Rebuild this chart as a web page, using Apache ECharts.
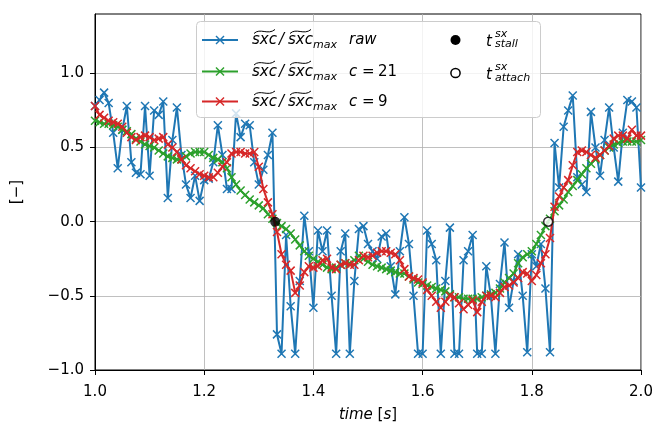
<!DOCTYPE html>
<html><head><meta charset="utf-8">
<script src="https://cdn.jsdelivr.net/npm/echarts@6/dist/echarts.min.js"></script>
<style>html,body{margin:0;padding:0;background:#fff}#c{width:659px;height:424px}</style>
</head><body><div id="c"></div>
<script>
// sampling grid
const T_START = 1.0;
const SAMPLE_RATE = 120;

const rawValues = [0.78,0.82,0.87,0.80,0.60,0.36,0.62,0.78,0.40,0.33,
0.32,0.78,0.31,0.75,0.72,0.81,0.16,0.55,0.77,0.45,
0.25,0.16,0.31,0.14,0.28,0.29,0.40,0.65,0.45,0.22,
0.22,0.73,0.57,0.66,0.65,0.40,0.25,0.35,0.45,0.60,
-0.76,-0.89,-0.09,-0.57,-0.89,-0.40,0.04,-0.20,-0.58,-0.06,
-0.20,-0.06,-0.50,-0.89,-0.20,-0.08,-0.89,-0.40,-0.05,-0.03,
-0.15,-0.20,-0.25,-0.10,-0.08,-0.30,-0.49,-0.20,0.03,-0.15,
-0.50,-0.89,-0.89,-0.06,-0.15,-0.26,-0.89,-0.40,-0.04,-0.89,
-0.89,-0.26,-0.20,-0.09,-0.89,-0.89,-0.30,-0.50,-0.89,-0.42,
-0.14,-0.58,-0.40,-0.22,-0.50,-0.88,-0.22,-0.30,-0.15,-0.45,
-0.88,0.53,0.23,0.64,0.75,0.85,0.30,0.25,0.20,0.74,
0.50,0.31,0.55,0.77,0.50,0.27,0.60,0.82,0.81,0.77,
0.23];

const smoothC21 = [0.68,0.67,0.66,0.66,0.65,0.64,0.62,0.61,0.59,0.56,
0.54,0.52,0.51,0.50,0.48,0.46,0.44,0.43,0.42,0.42,
0.44,0.46,0.47,0.47,0.47,0.45,0.43,0.42,0.40,0.36,
0.30,0.25,0.21,0.18,0.15,0.13,0.11,0.09,0.05,0.02,
-0.01,-0.03,-0.05,-0.08,-0.12,-0.16,-0.20,-0.23,-0.25,-0.27,
-0.29,-0.31,-0.32,-0.31,-0.29,-0.28,-0.28,-0.26,-0.23,-0.25,
-0.27,-0.29,-0.30,-0.31,-0.32,-0.33,-0.34,-0.35,-0.35,-0.37,
-0.39,-0.41,-0.42,-0.43,-0.44,-0.45,-0.46,-0.47,-0.49,-0.51,
-0.51,-0.52,-0.52,-0.52,-0.52,-0.51,-0.50,-0.49,-0.48,-0.45,
-0.41,-0.38,-0.35,-0.28,-0.24,-0.22,-0.20,-0.15,-0.09,-0.03,
0.02,0.07,0.11,0.15,0.20,0.24,0.28,0.32,0.36,0.39,
0.42,0.45,0.48,0.50,0.52,0.53,0.54,0.54,0.54,0.54,
0.55];

const smoothC9 = [0.78,0.72,0.70,0.68,0.67,0.66,0.64,0.60,0.57,0.55,
0.57,0.58,0.57,0.55,0.56,0.57,0.52,0.50,0.47,0.42,
0.38,0.36,0.34,0.32,0.31,0.30,0.30,0.33,0.37,0.40,
0.46,0.47,0.47,0.46,0.46,0.47,0.37,0.22,0.13,0.05,
-0.07,-0.22,-0.29,-0.33,-0.48,-0.43,-0.34,-0.30,-0.31,-0.30,
-0.26,-0.25,-0.31,-0.32,-0.29,-0.28,-0.29,-0.29,-0.26,-0.23,
-0.24,-0.23,-0.21,-0.20,-0.20,-0.21,-0.22,-0.26,-0.32,-0.37,
-0.38,-0.39,-0.41,-0.46,-0.50,-0.54,-0.58,-0.54,-0.50,-0.51,
-0.55,-0.59,-0.56,-0.53,-0.61,-0.54,-0.50,-0.50,-0.51,-0.48,
-0.44,-0.43,-0.41,-0.38,-0.34,-0.35,-0.40,-0.36,-0.28,-0.22,
-0.11,0.10,0.17,0.23,0.28,0.38,0.47,0.48,0.47,0.45,
0.43,0.45,0.48,0.51,0.56,0.58,0.58,0.56,0.62,0.58,
0.58];

const stallPoint = [[1.33, 0.0]];
const attachPoint = [[1.83, 0.0]];

const xTickValues = [1.0, 1.2, 1.4, 1.6, 1.8, 2.0];
const yTickValues = [-1.0, -0.5, 0.0, 0.5, 1.0];

const C_BLUE = '#1f77b4', C_GREEN = '#2ca02c', C_RED = '#d62728';
const FONT = '"DejaVu Sans", sans-serif';
const X_MARK = 'path://M0,0L10,10M10,0L0,10';

function toXY(arr){ return arr.map((v,i)=>[T_START + i / SAMPLE_RATE, v]); }
function fmt(v){ return v < 0 ? '\u2212' + Math.abs(v).toFixed(1) : v.toFixed(1); }

function lineSeries(name, vals, color, z){
  return {
    type:'line', name, data: toXY(vals), z,
    symbol: X_MARK, symbolSize: 8, showSymbol: true, showAllSymbol: true,
    lineStyle:{color, width:2},
    itemStyle:{color: color, borderColor: color, borderWidth: 1.5},
    emphasis:{disabled:true}, animation:false
  };
}

// legend drawn as graphic elements
function legendGraphics(){
  const els = [];
  els.push({type:'rect', shape:{x:196.5, y:21.5, width:344, height:96, r:4},
    style:{fill:'rgba(255,255,255,0.8)', stroke:'#cccccc', lineWidth:1}, z:100});
  const rows = [{c:C_BLUE, y:40, tail:'raw', tailIt:true},
                {c:C_GREEN, y:71.5, tail:'21'},
                {c:C_RED, y:101.5, tail:'9'}];
  rows.forEach(r=>{
    els.push({type:'line', shape:{x1:202, y1:r.y, x2:238, y2:r.y}, style:{stroke:r.c, lineWidth:2}, z:101});
    els.push({type:'line', shape:{x1:216, y1:r.y-4, x2:224, y2:r.y+4}, style:{stroke:r.c, lineWidth:1.5}, z:102});
    els.push({type:'line', shape:{x1:216, y1:r.y+4, x2:224, y2:r.y-4}, style:{stroke:r.c, lineWidth:1.5}, z:102});
    const ty = r.y + 0.5;
    const t = (text, x, y, size, italic) => els.push({type:'text', x, y, z:103,
      style:{text, font:(italic?'italic ':'') + size + 'px ' + FONT, fill:'#000', verticalAlign:'middle', align:'left'}});
    t('sxc', 252, ty, 15, true);
    t('/', 279, ty, 15, true);
    t('sxc', 288, ty, 15, true);
    t('max', 313, ty+5, 11, true);
    [252, 288].forEach(x0=>{
      els.push({type:'bezierCurve', shape:{x1:x0+2, y1:ty-7, cpx1:x0+8, cpy1:ty-13, cpx2:x0+16, cpy2:ty-5, x2:x0+23, y2:ty-11},
        style:{stroke:'#000', lineWidth:1, fill:'none'}, z:103});
    });
    if (r.tailIt) { t('raw', 349, ty, 15, true); }
    else { t('c', 349, ty, 15, true); t('=', 362, ty, 15, false); t(r.tail, 378, ty, 15, false); }
  });
  // second column
  els.push({type:'circle', shape:{cx:455.5, cy:40, r:5}, style:{fill:'#000'}, z:101});
  els.push({type:'circle', shape:{cx:455.5, cy:73, r:4.6}, style:{fill:'#fff', stroke:'#000', lineWidth:1.5}, z:101});
  const tt = (text, x, y, size) => els.push({type:'text', x, y, z:103,
      style:{text, font:'italic ' + size + 'px ' + FONT, fill:'#000', verticalAlign:'middle', align:'left'}});
  tt('t', 486, 42, 15); tt('sx', 495, 34, 11); tt('stall', 495, 44.5, 11);
  tt('t', 486, 75, 15); tt('sx', 495, 67, 11); tt('attach', 495, 78, 11);
  return els;
}

const chart = echarts.init(document.getElementById('c'), null, {renderer:'canvas'});
chart.setOption({
  animation:false,
  backgroundColor:'#fff',
  grid:{left:95, right:18, top:14, bottom:54, show:true, borderColor:'#000', borderWidth:1,
        containLabel:false, outerBoundsMode:'none'},
  xAxis:{
    type:'value', min:1.0, max:2.0, interval:0.2,
    name:'{it|time} {up|[}{it|s}{up|]}', nameLocation:'middle', nameGap:38,
    nameTextStyle:{color:'#000', fontSize:15, fontFamily:FONT,
      rich:{it:{fontStyle:'italic', fontSize:15, fontFamily:FONT, color:'#000'}, up:{fontSize:15, fontFamily:FONT, color:'#000'}}},
    axisLine:{show:true, onZero:false, lineStyle:{color:'#000', width:1}},
    axisTick:{show:true, inside:false, length:5, lineStyle:{color:'#000', width:1}, customValues: xTickValues},
    axisLabel:{color:'#000', fontSize:15, fontFamily:FONT, margin:15, formatter:fmt, customValues: xTickValues},
    splitLine:{show:true, lineStyle:{color:'#b0b0b0', width:0.8}}
  },
  yAxis:{
    type:'value', min:-1.0, max:1.4, interval:0.5,
    name:'[\u2212]', nameLocation:'middle', nameGap:70, nameRotate:90,
    nameTextStyle:{color:'#000', fontSize:15, fontFamily:FONT},
    axisLine:{show:true, onZero:false, lineStyle:{color:'#000', width:1}},
    axisTick:{show:true, inside:false, length:5, lineStyle:{color:'#000', width:1}, customValues: yTickValues},
    axisLabel:{color:'#000', fontSize:15, fontFamily:FONT, margin:11, formatter:fmt, customValues: yTickValues},
    splitLine:{show:true, lineStyle:{color:'#b0b0b0', width:0.8}}
  },
  series:[
    lineSeries('raw', rawValues, C_BLUE, 2),
    lineSeries('c = 21', smoothC21, C_GREEN, 3),
    lineSeries('c = 9', smoothC9, C_RED, 4),
    {type:'scatter', name:'t_stall', data: stallPoint, symbol:'circle', symbolSize:10, z:6,
      itemStyle:{color:'#000'}, emphasis:{disabled:true}},
    {type:'scatter', name:'t_attach', data: attachPoint, symbol:'circle', symbolSize:9, z:6,
      itemStyle:{color:'#fff', borderColor:'#000', borderWidth:1.5}, emphasis:{disabled:true}}
  ],
  graphic: legendGraphics()
});
</script>
</body></html>
